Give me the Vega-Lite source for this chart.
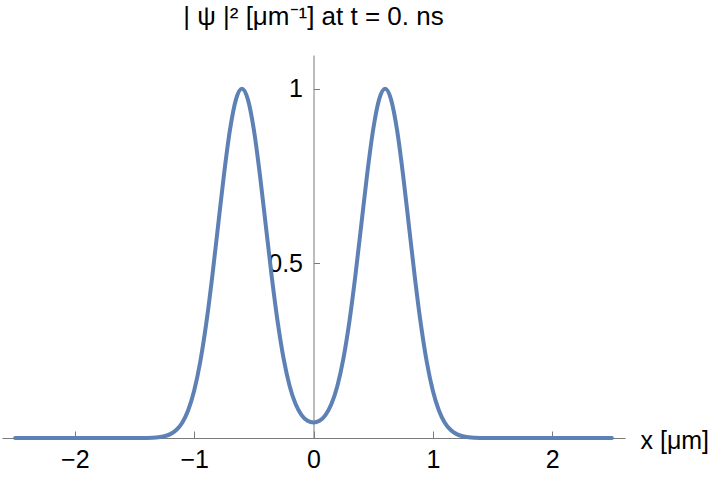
{
  "$schema": "https://vega.github.io/schema/vega-lite/v6.json",
  "width": 623,
  "height": 383,
  "autosize": {"type": "none"},
  "padding": {"left": 2, "top": 55, "right": 95, "bottom": 44},
  "background": "white",
  "config": {
    "view": {"stroke": null},
    "font": "Liberation Sans"
  },
  "title": {
    "text": "| ψ |²  [μm⁻¹] at t = 0. ns",
    "font": "Liberation Sans",
    "fontSize": 26,
    "fontWeight": "normal",
    "color": "black",
    "anchor": "middle",
    "frame": "group",
    "baseline": "alphabetic",
    "offset": 4
  },
  "data": {
    "values": [
      {"x": -2.5, "y": 0},
      {"x": -2.0, "y": 0},
      {"x": -1.7, "y": 0},
      {"x": -1.6, "y": 0.0000037},
      {"x": -1.55, "y": 0.0000126},
      {"x": -1.5, "y": 0.00004},
      {"x": -1.45, "y": 0.00012},
      {"x": -1.4, "y": 0.000335},
      {"x": -1.35, "y": 0.000884},
      {"x": -1.3, "y": 0.002187},
      {"x": -1.25, "y": 0.005087},
      {"x": -1.2, "y": 0.011109},
      {"x": -1.15, "y": 0.022785},
      {"x": -1.1, "y": 0.043937},
      {"x": -1.05, "y": 0.07956},
      {"x": -1.0, "y": 0.135335},
      {"x": -0.95, "y": 0.216265},
      {"x": -0.9, "y": 0.324652},
      {"x": -0.85, "y": 0.457833},
      {"x": -0.8, "y": 0.606531},
      {"x": -0.75, "y": 0.754859},
      {"x": -0.7, "y": 0.882545},
      {"x": -0.65, "y": 0.969345},
      {"x": -0.6, "y": 1.000247},
      {"x": -0.55, "y": 0.969739},
      {"x": -0.5, "y": 0.883472},
      {"x": -0.45, "y": 0.756608},
      {"x": -0.4, "y": 0.609541},
      {"x": -0.35, "y": 0.462653},
      {"x": -0.3, "y": 0.331906},
      {"x": -0.25, "y": 0.226559},
      {"x": -0.2, "y": 0.149147},
      {"x": -0.15, "y": 0.097217},
      {"x": -0.1, "y": 0.065732},
      {"x": -0.05, "y": 0.049402},
      {"x": 0.0, "y": 0.044436},
      {"x": 0.05, "y": 0.049402},
      {"x": 0.1, "y": 0.065732},
      {"x": 0.15, "y": 0.097217},
      {"x": 0.2, "y": 0.149147},
      {"x": 0.25, "y": 0.226559},
      {"x": 0.3, "y": 0.331906},
      {"x": 0.35, "y": 0.462653},
      {"x": 0.4, "y": 0.609541},
      {"x": 0.45, "y": 0.756608},
      {"x": 0.5, "y": 0.883472},
      {"x": 0.55, "y": 0.969739},
      {"x": 0.6, "y": 1.000247},
      {"x": 0.65, "y": 0.969345},
      {"x": 0.7, "y": 0.882545},
      {"x": 0.75, "y": 0.754859},
      {"x": 0.8, "y": 0.606531},
      {"x": 0.85, "y": 0.457833},
      {"x": 0.9, "y": 0.324652},
      {"x": 0.95, "y": 0.216265},
      {"x": 1.0, "y": 0.135335},
      {"x": 1.05, "y": 0.07956},
      {"x": 1.1, "y": 0.043937},
      {"x": 1.15, "y": 0.022785},
      {"x": 1.2, "y": 0.011109},
      {"x": 1.25, "y": 0.005087},
      {"x": 1.3, "y": 0.002187},
      {"x": 1.35, "y": 0.000884},
      {"x": 1.4, "y": 0.000335},
      {"x": 1.45, "y": 0.00012},
      {"x": 1.5, "y": 0.00004},
      {"x": 1.55, "y": 0.0000126},
      {"x": 1.6, "y": 0.0000037},
      {"x": 1.7, "y": 0},
      {"x": 2.0, "y": 0},
      {"x": 2.5, "y": 0}
    ]
  },
  "mark": {
    "type": "line",
    "color": "#5E81B5",
    "strokeWidth": 4,
    "interpolate": "monotone",
    "strokeCap": "round",
    "clip": false
  },
  "encoding": {
    "x": {
      "field": "x",
      "type": "quantitative",
      "scale": {"domain": [-2.61, 2.61], "nice": false, "zero": false},
      "axis": {
        "orient": "bottom",
        "values": [-2, -1, 0, 1, 2],
        "grid": false,
        "domainColor": "#7a7a7a",
        "tickColor": "#7a7a7a",
        "tickSize": -7,
        "labelPadding": 16,
        "labelFontSize": 25,
        "labelColor": "black",
        "labelFont": "Liberation Sans",
        "title": "x [μm]",
        "titleFont": "Liberation Sans",
        "titleFontSize": 25,
        "titleFontWeight": "normal",
        "titleColor": "black",
        "titleX": 638,
        "titleY": 2,
        "titleAlign": "left",
        "titleBaseline": "middle",
        "titleAngle": 0
      }
    },
    "y": {
      "field": "y",
      "type": "quantitative",
      "scale": {"domain": [0, 1.097], "nice": false},
      "axis": {
        "orient": "left",
        "offset": -311.5,
        "values": [0.5, 1],
        "labelExpr": "datum.value",
        "grid": false,
        "domainColor": "#7a7a7a",
        "tickColor": "#7a7a7a",
        "tickSize": -6,
        "labelPadding": 17,
        "labelFontSize": 25,
        "labelColor": "black",
        "labelFont": "Liberation Sans",
        "title": null
      }
    }
  }
}
